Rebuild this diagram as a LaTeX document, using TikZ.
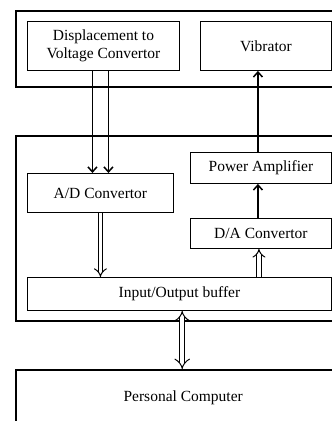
\documentclass[tikz,border=0pt]{standalone}
\usepackage{fontspec}
\setmainfont{Liberation Serif}
\usetikzlibrary{arrows.meta}
\begin{document}
\begin{tikzpicture}[x=1pt,y=-1pt,
  outer/.style={draw, line width=2.4pt, anchor=north west, inner sep=0pt, font=\fontsize{15.5}{18.5}\selectfont},
  inbox/.style={draw, line width=0.9pt, anchor=north west, inner sep=0pt, align=center, font=\fontsize{15.5}{18.5}\selectfont},
  sarrow/.style={line width=1.5pt, -{Straight Barb[length=5pt,width=9pt]}},
  darrow/.style={double, double distance=3.5pt, line width=1pt, -{Implies}},
  ddarrow/.style={double, double distance=4.5pt, line width=1pt, {Implies}-{Implies}}]
\useasboundingbox (0,0) rectangle (332,421);
\clip (0,0) rectangle (332,421);
% outer blocks
\node[outer, minimum width=334pt, minimum height=76pt] (top) at (15,10) {};
\node[outer, minimum width=334pt, minimum height=185pt] (mid) at (15,135) {};
\node[outer, minimum width=334pt, minimum height=56pt] (pc) at (15,369) {Personal Computer};
% inner boxes
\node[inbox, minimum width=152pt, minimum height=49pt] (disp) at (27,21) {Displacement to\\Voltage Convertor};
\node[inbox, minimum width=131pt, minimum height=49pt] (vib) at (200,21) {Vibrator};
\node[inbox, minimum width=146pt, minimum height=39pt] (ad) at (27,173) {A/D Convertor};
\node[inbox, minimum width=141pt, minimum height=31pt] (pa) at (190,152) {Power Amplifier};
\node[inbox, minimum width=141pt, minimum height=30pt] (da) at (190,218) {D/A Convertor};
\node[inbox, minimum width=304pt, minimum height=33pt] (io) at (27,277) {Input/Output buffer};
% connectors
\draw[sarrow] ([xshift=-8pt]ad.north |- disp.south) -- ([xshift=-8pt]ad.north);
\draw[sarrow] ([xshift=8pt]ad.north |- disp.south) -- ([xshift=8pt]ad.north);
\draw[darrow] (ad.south) -- (ad.south |- io.north);
\draw[darrow] ([xshift=-2pt]da.south |- io.north) -- ([xshift=-2pt]da.south);
\draw[sarrow] ([xshift=-3pt]da.north) -- ([xshift=-3pt]pa.south);
\draw[sarrow] ([xshift=-3pt]pa.north) -- ([xshift=-3pt]pa.north |- vib.south);
\draw[ddarrow] ([xshift=-1pt]pc.north |- io.south) -- ([xshift=-1pt]pc.north);
\end{tikzpicture}
\end{document}
